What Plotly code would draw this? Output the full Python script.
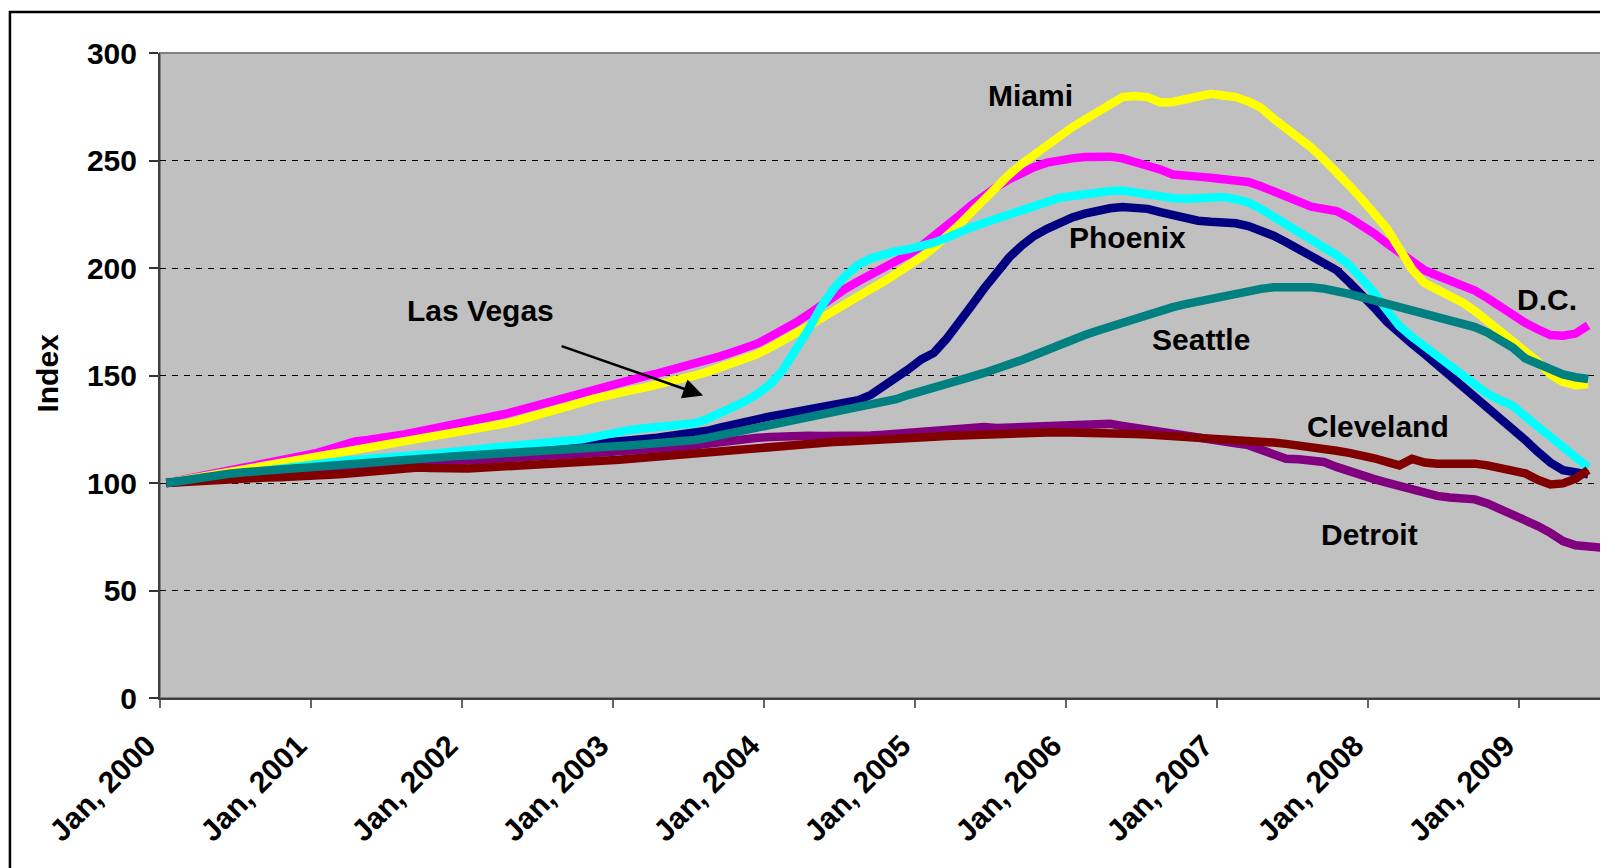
import plotly.graph_objects as go

# Month index 0 = Jan 2000 ... 113 = Jun 2009
tick_labels = ["Jan, 2000", "Jan, 2001", "Jan, 2002", "Jan, 2003", "Jan, 2004",
               "Jan, 2005", "Jan, 2006", "Jan, 2007", "Jan, 2008", "Jan, 2009"]

miami = [100, 101.0, 102.1, 103.2, 104.3, 105.5, 106.8, 107.9, 108.9, 109.8, 110.6, 111.3,
         112.2, 113.1, 114.0, 115.0, 116.0, 117.1, 118.2, 119.3, 120.4, 121.4, 122.4, 123.3,
         124.0, 125.2, 126.4, 127.7, 129.1, 130.6, 132.2, 133.9, 135.7, 137.5, 139.2, 140.8,
         142.0, 143.2, 144.4, 145.6, 146.9, 148.3, 149.9, 151.7, 153.6, 155.6, 157.7, 160.0,
         163.0, 166.0, 169.3, 172.8, 176.5, 180.2, 183.7, 187.0, 190.3, 193.6, 197.2, 201.0,
         205.0, 209.5, 214.5, 220.0, 226.0, 232.0, 238.0, 243.5, 248.5, 253.0, 257.5, 261.8,
         265.5, 269.0, 272.5, 276.0, 279.5, 280.0, 279.5, 277.0, 277.2, 278.5, 279.8, 281.0,
         280.2, 279.5, 277.5, 274.5, 269.5, 265.0, 261.0, 256.0, 250.5, 245.0, 238.5, 232.0,
         225.5, 218.5, 209.0, 199.5, 193.0, 190.0, 187.5, 184.0, 180.0, 175.5, 171.0, 165.5,
         161.0, 156.5, 150.5, 147.0, 145.5, 146.0]

dc = [100, 101.0, 102.2, 103.5, 104.7, 105.9, 107.0, 108.1, 109.2, 110.2, 111.2, 112.3,
      114.0, 115.8, 117.8, 119.3, 120.0, 120.6, 121.6, 122.7, 123.9, 125.0, 126.0, 127.0,
      128.0, 129.3, 130.7, 132.2, 133.8, 135.4, 137.2, 139.0, 140.8, 142.6, 144.2, 145.6,
      147.0, 148.3, 149.6, 150.9, 152.3, 153.8, 155.4, 157.1, 158.9, 160.8, 162.8, 164.9,
      168.0, 171.0, 174.5, 178.3, 182.5, 186.8, 190.5, 193.8, 196.8, 199.7, 202.8, 206.3,
      210.2, 214.5, 219.2, 224.3, 229.3, 233.8, 237.8, 241.3, 244.5, 247.0, 249.0, 250.3,
      251.0, 251.6, 252.0, 251.8, 251.0, 249.5, 247.8, 245.8, 243.5, 242.5, 242.5, 242.0,
      241.4, 240.8, 240.0, 238.0, 235.5, 233.0, 230.5, 228.5, 227.5, 226.5, 223.5, 220.0,
      216.0, 211.5, 207.0, 202.5, 199.0, 196.5, 194.5, 192.5, 189.5, 186.0, 182.0, 178.5,
      174.5, 171.5, 168.8, 168.5, 169.5, 173.3]

las_vegas = [100, 100.8, 101.6, 102.4, 103.2, 104.0, 104.8, 105.6, 106.3, 107.0, 107.7, 108.4,
             109.0, 109.6, 110.2, 110.8, 111.3, 111.8, 112.2, 112.6, 113.0, 113.4, 113.8, 114.2,
             115.0, 115.8, 116.5, 117.2, 117.8, 118.3, 118.8, 119.3, 119.8, 120.3, 121.5, 123.0,
             124.0, 124.8, 125.5, 126.0, 126.4, 126.8, 127.8, 129.8, 132.3, 135.0, 138.0, 141.5,
             146.0, 152.5, 161.0, 171.0, 181.5, 190.0, 196.5, 201.5, 204.5, 206.5, 207.8, 208.8,
             210.0, 211.8, 214.0, 216.7, 219.0, 221.0, 222.8, 224.8, 227.0, 229.0, 231.0, 232.7,
             233.5, 234.5, 235.3, 235.8, 236.0, 235.0, 233.5, 233.0, 232.5, 232.2, 232.5, 232.8,
             233.0, 232.0, 230.5, 227.5, 224.0, 220.0, 217.5, 214.0, 210.0, 206.0, 201.5, 195.5,
             188.5, 180.5, 173.0, 168.0, 163.5, 159.0, 154.0, 150.0, 146.0, 141.5, 138.5, 136.0,
             131.0, 126.0, 121.0, 116.5, 112.0, 107.3]

phoenix = [100, 100.6, 101.2, 101.8, 102.4, 103.0, 103.6, 104.1, 104.6, 105.1, 105.6, 106.1,
           106.6, 107.1, 107.6, 108.1, 108.6, 109.1, 109.6, 110.1, 110.6, 111.1, 111.6, 112.1,
           112.6, 113.1, 113.6, 114.1, 114.6, 115.1, 115.7, 116.3, 116.9, 117.5, 118.1, 118.7,
           119.3, 119.9, 120.5, 121.1, 121.7, 122.4, 123.1, 124.3, 125.8, 127.3, 128.8, 130.0,
           131.0, 132.0, 133.0, 134.2, 135.5, 136.8, 138.0, 138.5, 141.0, 144.8, 148.5, 153.0,
           157.5, 160.5, 167.0, 175.5, 182.5, 190.5, 198.0, 205.0, 210.5, 215.0, 218.2, 221.0,
           223.5, 225.3, 226.8, 227.8, 228.4, 228.2, 227.5, 226.0, 224.5, 223.0, 222.0, 221.5,
           221.2, 220.8, 219.5, 217.5, 215.0, 212.0, 209.0, 206.0, 203.0, 199.0, 193.5, 188.0,
           181.5, 175.0, 169.5, 164.8, 160.0, 155.0, 150.0, 145.0, 140.0, 135.0, 130.5, 126.0,
           120.0, 114.5, 109.5, 106.0, 104.5, 104.0]

seattle = [100, 101.0, 101.9, 102.8, 103.6, 104.3, 104.9, 105.4, 105.8, 106.2, 106.6, 107.0,
           107.4, 107.8, 108.3, 108.8, 109.3, 109.8, 110.4, 111.0, 111.6, 112.0, 112.3, 112.5,
           112.8, 113.1, 113.4, 113.8, 114.2, 114.6, 115.0, 115.3, 115.6, 116.0, 116.4, 116.8,
           117.2, 117.6, 118.0, 118.4, 118.8, 119.2, 120.0, 121.0, 122.2, 123.5, 124.8, 126.0,
           127.2, 128.5, 129.8, 131.0, 132.0, 133.0, 134.0, 135.0, 136.3, 137.8, 139.0, 141.0,
           142.5, 144.2, 146.0, 147.8, 149.5, 151.2, 153.0, 155.0, 157.2, 159.5, 162.0, 164.5,
           166.8, 168.8, 170.8, 172.8, 174.8, 176.7, 178.5, 180.2, 181.8, 183.2, 184.5, 185.7,
           187.0, 188.2, 189.3, 190.3, 191.0, 191.2, 191.3, 191.0, 190.4, 189.5, 188.0, 186.5,
           185.0, 183.5, 182.0, 180.5, 179.0, 177.5, 176.0, 174.5, 172.5, 170.0, 167.0, 163.0,
           158.0, 155.5, 153.0, 150.5, 149.2, 148.4]

cleveland = [100, 100.4, 100.9, 101.4, 101.8, 102.1, 102.3, 102.4, 102.6, 102.7, 102.8, 103.0,
             103.4, 103.8, 104.2, 104.7, 105.3, 105.9, 106.5, 107.0, 107.2, 107.0, 106.7, 106.6,
             106.8, 107.1, 107.5, 108.0, 108.5, 109.0, 109.3, 109.6, 109.9, 110.1, 110.3, 110.5,
             110.8, 111.3, 112.0, 112.8, 113.5, 114.1, 114.6, 115.0, 115.4, 115.8, 116.3, 116.8,
             117.3, 117.8, 118.2, 118.6, 118.9, 119.1, 119.3, 119.5, 119.7, 119.9, 120.2, 120.6,
             121.0, 121.5, 121.9, 122.2, 122.4, 122.6, 122.8, 123.0, 123.2, 123.4, 123.5, 123.6,
             123.6, 123.5, 123.3, 123.1, 123.0, 122.8, 122.5, 122.2, 121.8, 121.3, 120.8, 120.5,
             120.3, 120.1, 119.8, 119.3, 118.8, 118.2, 117.6, 116.9, 116.0, 115.0, 114.0, 113.0,
             111.5, 109.8, 108.2, 111.2, 109.5, 109.0, 109.3, 109.6, 109.0, 108.2, 107.2, 106.0,
             104.5, 101.5, 99.3, 99.8, 102.0, 106.0]

detroit = [100, 100.8, 101.6, 102.4, 103.1, 103.7, 104.2, 104.7, 105.1, 105.4, 105.7, 106.0,
           106.3, 106.6, 107.0, 107.4, 107.9, 108.4, 108.9, 109.2, 109.4, 109.5, 109.6, 109.7,
           109.9, 110.2, 110.6, 111.0, 111.5, 112.0, 112.4, 112.8, 113.2, 113.6, 114.0, 114.3,
           114.5, 114.8, 115.2, 115.7, 116.3, 116.9, 117.6, 118.4, 119.2, 119.9, 120.5, 121.0,
           121.4, 121.8, 122.0, 122.0, 121.9, 121.8, 121.8, 121.9, 122.1, 122.5, 123.0, 123.5,
           124.0, 124.4, 125.0, 125.6, 126.1, 126.0, 125.6, 125.8, 126.1, 126.5, 126.9, 127.2,
           127.5, 127.7, 127.8, 127.5, 126.5, 125.5, 124.7, 124.0, 123.0, 122.0, 121.0, 120.2,
           119.3, 118.5, 117.6, 115.5, 113.0, 111.3, 111.0, 110.6, 109.8, 107.5, 105.3, 103.5,
           101.8, 100.2, 98.5, 96.8, 95.2, 94.0, 93.3, 93.0, 92.4, 90.5, 88.0, 85.5, 83.0,
           80.0, 76.8, 73.0, 71.0, 70.5, 70.0]

series = [
    ("D.C.", dc, "#FF00FF"),
    ("Miami", miami, "#FFFF00"),
    ("Phoenix", phoenix, "#000080"),
    ("Las Vegas", las_vegas, "#00FFFF"),
    ("Detroit", detroit, "#800080"),
    ("Cleveland", cleveland, "#800000"),
    ("Seattle", seattle, "#008080"),
]

FONT = "Liberation Sans, Arial, sans-serif"

fig = go.Figure()
for name, vals, col in series:
    fig.add_trace(go.Scatter(x=list(range(len(vals))), y=vals, mode="lines", name=name,
                             line=dict(color=col, width=8.5), showlegend=False,
                             hoverinfo="skip"))

labels = [
    ("Miami", 68.7, 280.4),
    ("Phoenix", 76.4, 214.3),
    ("Seattle", 82.2, 166.7),
    ("D.C.", 109.7, 185.4),
    ("Cleveland", 96.3, 126.2),
    ("Detroit", 95.6, 76.2),
    ("Las Vegas", 25.0, 180.3),
]
for txt, xx, yy in labels:
    fig.add_annotation(x=xx, y=yy, text=f"<b>{txt}</b>", showarrow=False,
                       font=dict(family=FONT, size=30, color="black"),
                       xanchor="center", yanchor="middle")

# arrow pointing at Las Vegas
fig.add_annotation(x=42.66, y=140.7, ax=31.3, ay=163.9, axref="x", ayref="y",
                   xref="x", yref="y", text="", showarrow=True, arrowhead=2,
                   arrowsize=1.6, arrowwidth=2.5, arrowcolor="black", standoff=0)

fig.add_annotation(xref="paper", yref="paper", x=-0.0774, y=0.503, text="<b>Index</b>",
                   textangle=-90, showarrow=False, xanchor="center", yanchor="middle",
                   font=dict(family=FONT, size=30, color="black"))

# plot-area border and outer frame
fig.add_shape(type="rect", xref="paper", yref="paper", x0=0, x1=1, y0=0, y1=1,
              line=dict(color="#808080", width=2), layer="below")
fig.add_shape(type="rect", xref="paper", yref="paper", x0=-0.1037, x1=1.02, y0=-0.3, y1=1.0637,
              line=dict(color="black", width=2.5))

# the page body adds an 8px offset, so the figure is 1600x860 with margins reduced by 8
fig.update_layout(
    width=1600, height=860,
    margin=dict(l=152, r=1, t=45, b=170),
    paper_bgcolor="white", plot_bgcolor="#C0C0C0",
    font=dict(family=FONT, color="black"),
)
fig.update_xaxes(range=[-0.5, 114.5], tickmode="array",
                 tickvals=[-0.5 + 12 * i for i in range(len(tick_labels))],
                 ticktext=[f"<b>{t}</b>" for t in tick_labels],
                 tickangle=-45, ticks="outside", ticklen=8, tickcolor="#666666", tickwidth=2,
                 ticklabelshift=-13, ticklabelstandoff=8,
                 showgrid=False, zeroline=False, showline=True, linecolor="#404040", linewidth=2,
                 tickfont=dict(family=FONT, size=30, color="black"))
fig.update_yaxes(range=[0, 300], dtick=50, tick0=0, ticks="outside", ticklen=9,
                 tickcolor="#333333", tickwidth=1.5,
                 showgrid=True, gridcolor="#000000", gridwidth=1, griddash="6px,6px",
                 zeroline=False, showline=True, linecolor="#404040", linewidth=2,
                 tickfont=dict(family=FONT, size=30, color="black"),
                 tickformat="d", ticklabelstandoff=6,
                 tickprefix="<b>", ticksuffix="</b>")

fig.write_html("out.html")
